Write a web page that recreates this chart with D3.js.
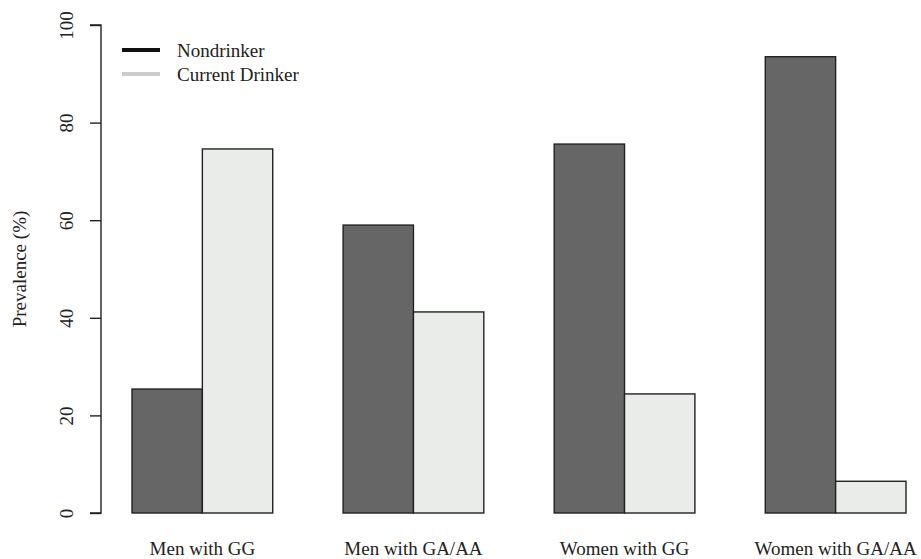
<!DOCTYPE html>
<html>
<head>
<meta charset="utf-8">
<script src="https://cdn.jsdelivr.net/npm/d3@7"></script>
<style>
  html, body { margin: 0; padding: 0; background: #fff; }
  text { font-family: "Liberation Serif", "DejaVu Serif", serif; fill: #222; }
</style>
</head>
<body>
<svg id="chart" width="921" height="559"></svg>
<script>
// Prevalence of drinking status by sex and genotype
const groups = ["Men with GG", "Men with GA/AA", "Women with GG", "Women with GA/AA"];
const seriesNames = ["Nondrinker", "Current Drinker"];
const nondrinker = [25.4, 59.0, 75.6, 93.5];
const currentDrinker = [74.6, 41.2, 24.4, 6.5];
const yTicks = [0, 20, 40, 60, 80, 100];

const fills = ["#666666", "#eaecea"];
const legendStroke = ["#111111", "#cccccc"];

const svg = d3.select("#chart");

// Bar slots: each group occupies one gap unit plus two bar units
const x = d3.scaleLinear().domain([1, 12]).range([132, 906]);
const y = d3.scaleLinear().domain([0, 100]).range([513, 25]);

const values = [nondrinker, currentDrinker];
const bars = [];
groups.forEach((g, gi) => {
  values.forEach((vals, si) => {
    const left = 1 + gi * 3 + si;
    bars.push({ g, si, left, v: vals[gi] });
  });
});

svg.append("g").selectAll("rect")
  .data(bars)
  .join("rect")
  .attr("x", d => x(d.left))
  .attr("width", d => x(d.left + 1) - x(d.left))
  .attr("y", d => y(d.v))
  .attr("height", d => y(0) - y(d.v))
  .attr("fill", d => fills[d.si])
  .attr("stroke", "#222")
  .attr("stroke-width", 1.4);

// Group labels under each pair of bars
svg.append("g").selectAll("text")
  .data(groups)
  .join("text")
  .attr("x", (d, i) => x(2 + i * 3))
  .attr("y", 555)
  .attr("text-anchor", "middle")
  .style("font-size", "19px")
  .text(d => d);

// Left axis
const yAxis = d3.axisLeft(y).tickValues(yTicks).tickSize(11).tickPadding(0).tickFormat(d3.format("d"));
const ax = svg.append("g").attr("transform", "translate(101,0)").call(yAxis);
ax.select(".domain").attr("d", `M-11,${y(0)}H0V${y(100)}H-11`).attr("stroke", "#222").attr("stroke-width", 1.4);
ax.selectAll(".tick line").attr("stroke", "#222").attr("stroke-width", 1.4);
ax.selectAll(".tick text")
  .attr("transform", "rotate(-90)")
  .attr("x", 0)
  .attr("y", -28)
  .attr("dy", 0)
  .attr("text-anchor", "middle")
  .style("font-family", "'Liberation Serif', serif")
  .style("font-size", "19px")
  .attr("fill", "#222");

svg.append("text")
  .attr("transform", `translate(26,${y(50)}) rotate(-90)`)
  .attr("text-anchor", "middle")
  .style("font-size", "19px")
  .text("Prevalence (%)");

// Legend
const legend = svg.append("g").selectAll("g")
  .data(seriesNames)
  .join("g")
  .attr("transform", (d, i) => `translate(0,${50 + i * 24})`);
legend.append("line")
  .attr("x1", 122).attr("x2", 160)
  .attr("y1", 0).attr("y2", 0)
  .attr("stroke", (d, i) => legendStroke[i])
  .attr("stroke-width", 4);
legend.append("text")
  .attr("x", 177)
  .attr("y", 7)
  .style("font-size", "19px")
  .text(d => d);
</script>
</body>
</html>
